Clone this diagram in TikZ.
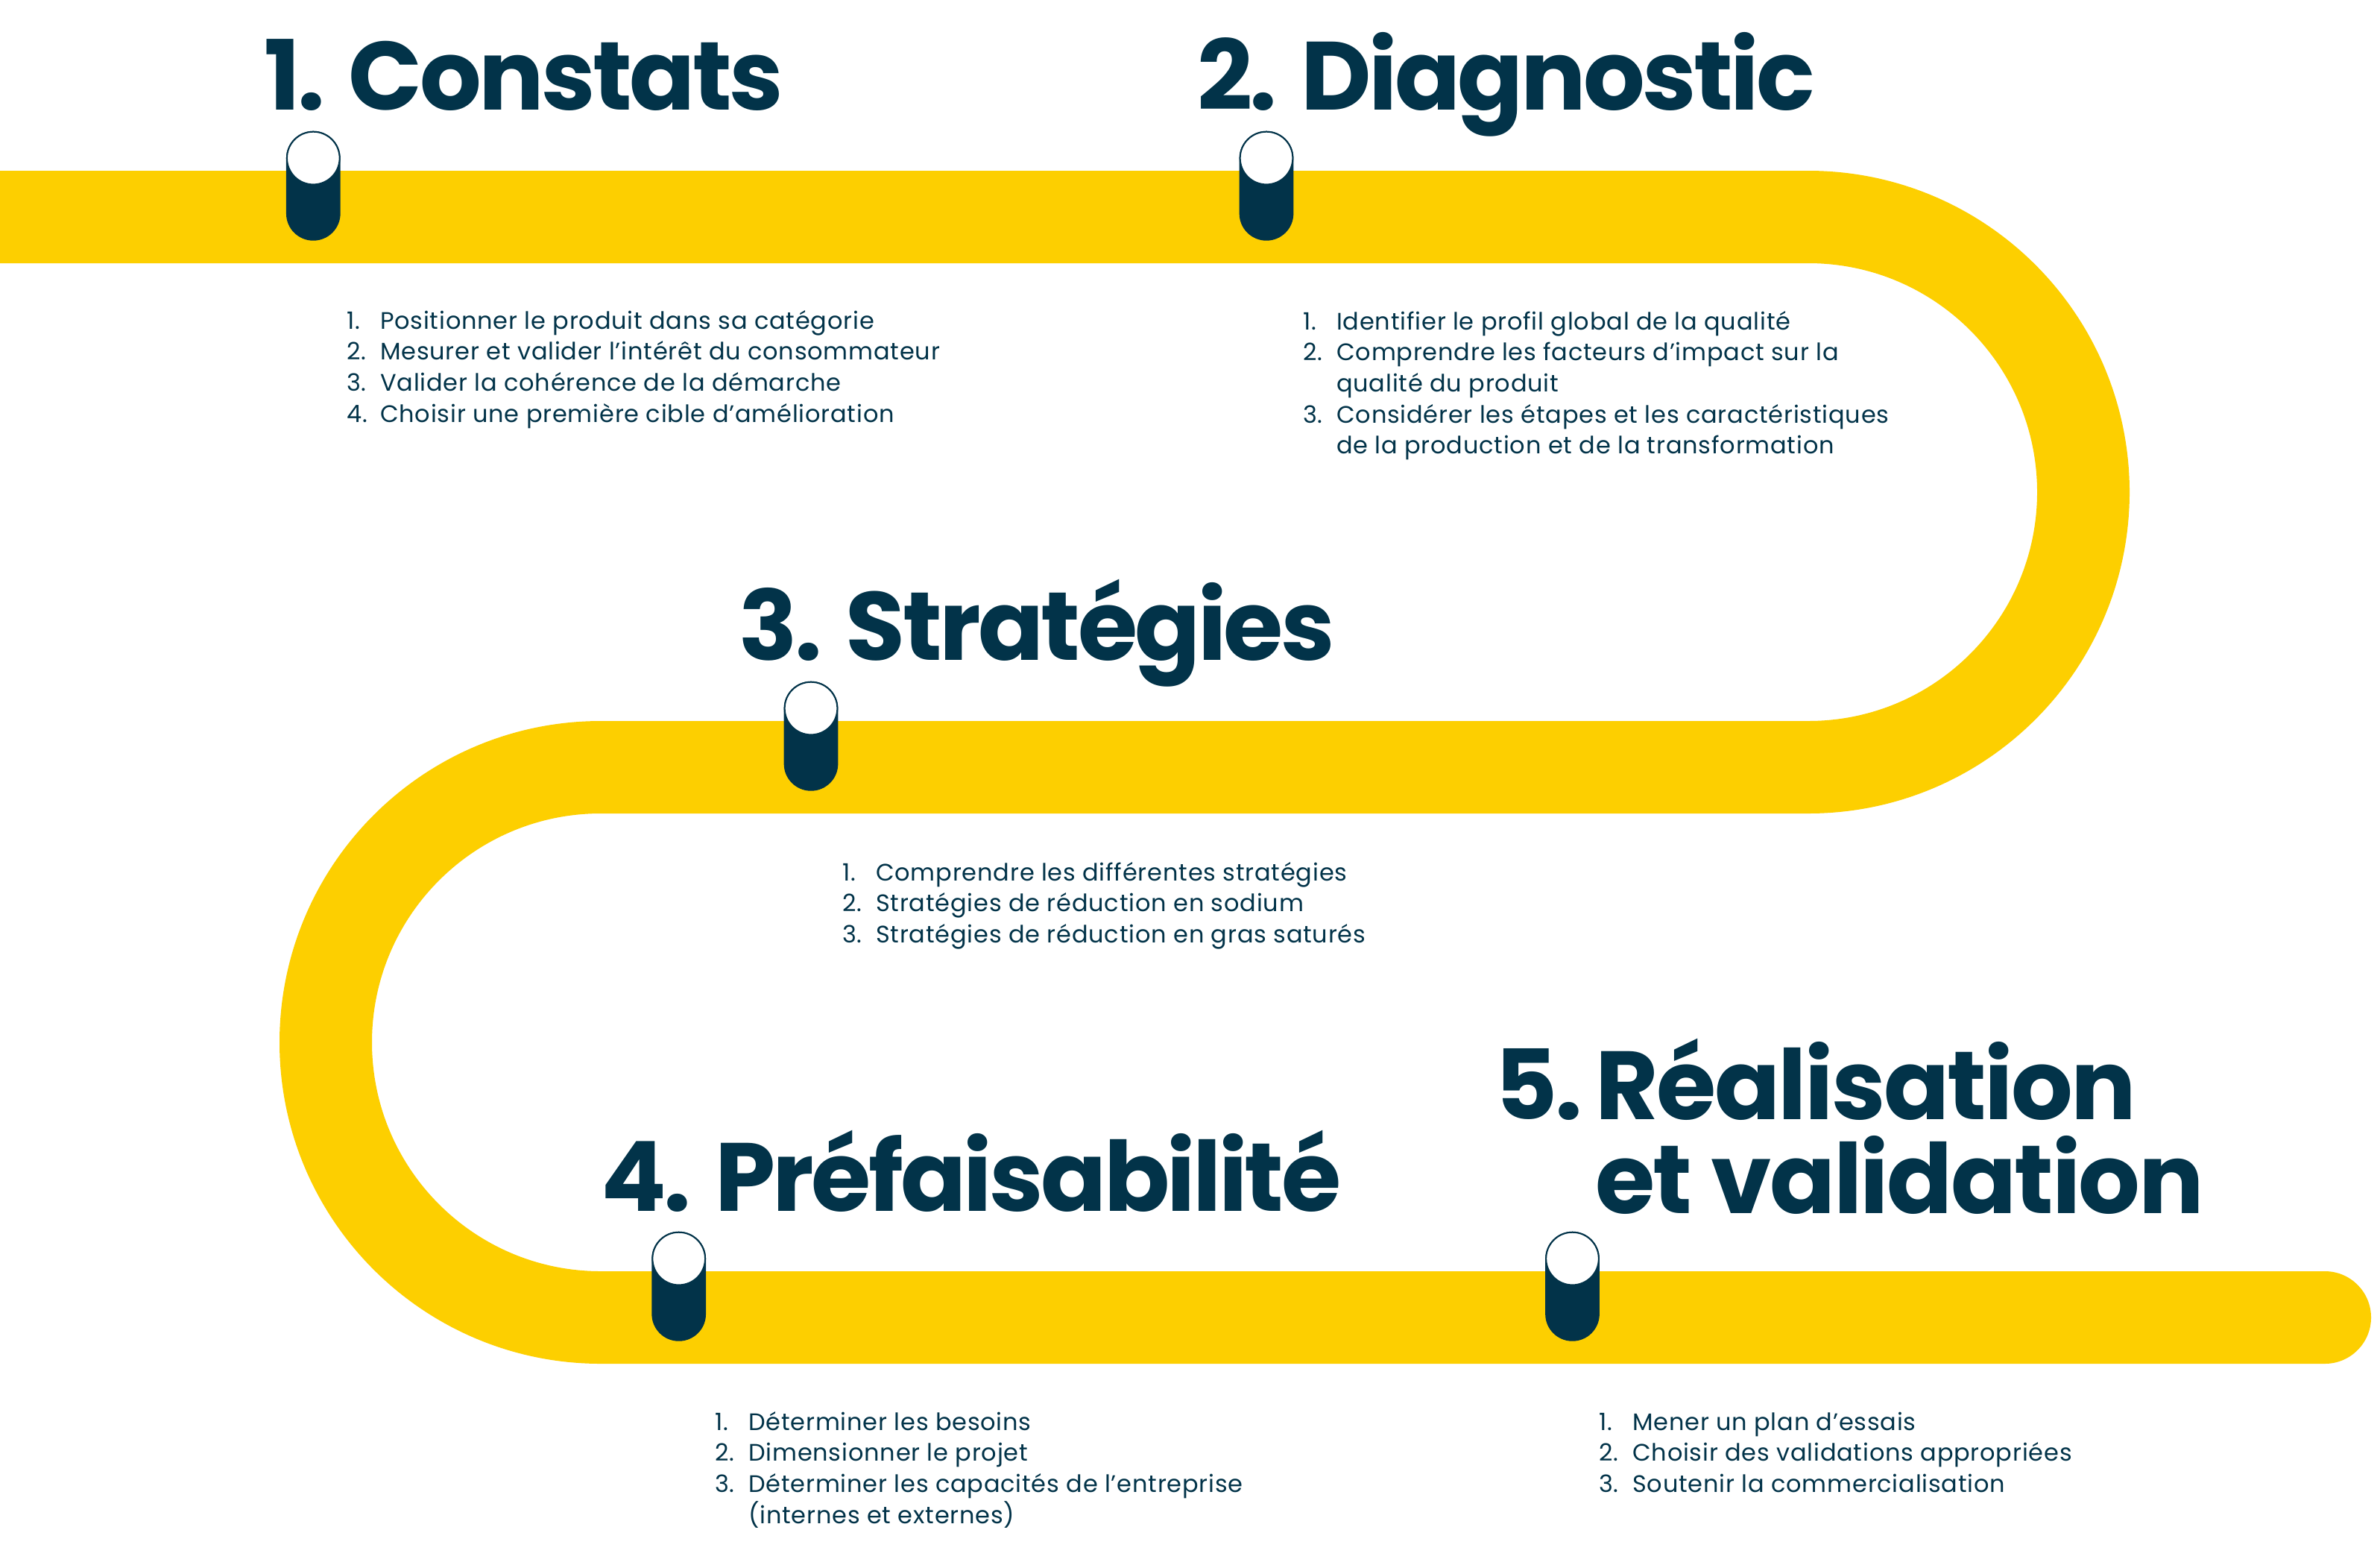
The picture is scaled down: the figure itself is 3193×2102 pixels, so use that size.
\documentclass[tikz,border=0pt]{standalone}
\usepackage{fontspec}
\setmainfont{Poppins}
\newfontfamily\titlefamily{Poppins}[LetterSpace=-2.8]
\newfontfamily\titlewidefamily{Poppins}[LetterSpace=-2.0]
\newfontfamily\bodyfamily{Poppins}[LetterSpace=2.5]
\definecolor{navy}{RGB}{2,51,73}
\definecolor{gold}{RGB}{253,207,0}
\newcommand\stepnum[1]{\makebox[45bp][l]{#1}}
\tikzset{
  band/.style={draw=gold, line width=124bp, line cap=round},
  pillbody/.style={rectangle, fill=navy, rounded corners=36.3bp, minimum width=72.7bp, minimum height=147bp, inner sep=0pt, draw=none},
  pillcap/.style={circle, fill=white, draw=navy, line width=2bp, minimum size=70.7bp, inner sep=0pt},
  titletext/.style={anchor=base west, inner sep=0pt, text=navy, font=\titlefamily\fontsize{130bp}{126bp}\selectfont\bfseries},
  titlewide/.style={titletext, font=\titlewidefamily\fontsize{130bp}{126bp}\selectfont\bfseries},
  steplist/.style={anchor=base west, inner sep=0pt, text=navy, font=\bodyfamily\fontsize{32bp}{41.7bp}\selectfont},
}
\begin{document}
\begin{tikzpicture}[x=1bp,y=1bp]
\useasboundingbox (0,0) rectangle (3193,-2102);
\fill[white] (0,0) rectangle (3193,-2102);

% road
\coordinate (r0) at (-80,-291);
\coordinate (r1) at (2426,-291);
\coordinate (r2) at (806,-1029);
\coordinate (r3) at (3119,-1767);
\draw[band] (r0) -- (r1) arc[start angle=90, end angle=-90, radius=369] -- (r2) arc[start angle=90, end angle=270, radius=369] -- (r3);

% pills
\foreach \n/\px/\cy in {1/420.3/291, 2/1699/291, 3/1088/1029, 4/910.7/1767, 5/2109.5/1767}{
  \node[pillbody] (pill\n) at (\px,-\cy+41.8) {};
  \node[pillcap] (cap\n) at (\px,-\cy+78.95) {};
}

% titles
\node[titletext] (t1) at (354,-147) {1. Constats};
\node[titletext] (t2) at (1606,-147) {2. Diagnostic};
\node[titletext] (t3) at (991,-885) {3. Stratégies};
\node[titletext] (t4) at (806,-1624) {4. Préfaisabilité};
\node[titletext] (t5a) at (2005,-1501) {5.};
\node[titlewide] (t5b) at (2140,-1501) {Réalisation};
\node[titlewide] (t5c) at (2140,-1627) {et validation};

% lists
\node[steplist] (l1) at (465,-441) {\begin{tabular}[t]{@{}l@{}l@{}}
\stepnum{1.} & Positionner le produit dans sa catégorie\\
\stepnum{2.} & Mesurer et valider l’intérêt du consommateur\\
\stepnum{3.} & Valider la cohérence de la démarche\\
\stepnum{4.} & Choisir une première cible d’amélioration
\end{tabular}};

\node[steplist] (l2) at (1748,-442) {\begin{tabular}[t]{@{}l@{}l@{}}
\stepnum{1.} & Identifier le profil global de la qualité\\
\stepnum{2.} & Comprendre les facteurs d’impact sur la\\
 & qualité du produit\\
\stepnum{3.} & Considérer les étapes et les caractéristiques\\
 & de la production et de la transformation
\end{tabular}};

\node[steplist] (l3) at (1130,-1181) {\begin{tabular}[t]{@{}l@{}l@{}}
\stepnum{1.} & Comprendre les différentes stratégies\\
\stepnum{2.} & Stratégies de réduction en sodium\\
\stepnum{3.} & Stratégies de réduction en gras saturés
\end{tabular}};

\node[steplist] (l4) at (959,-1918) {\begin{tabular}[t]{@{}l@{}l@{}}
\stepnum{1.} & Déterminer les besoins\\
\stepnum{2.} & Dimensionner le projet\\
\stepnum{3.} & Déterminer les capacités de l’entreprise\\
 & (internes et externes)
\end{tabular}};

\node[steplist] (l5) at (2145,-1918) {\begin{tabular}[t]{@{}l@{}l@{}}
\stepnum{1.} & Mener un plan d’essais\\
\stepnum{2.} & Choisir des validations appropriées\\
\stepnum{3.} & Soutenir la commercialisation
\end{tabular}};
\end{tikzpicture}
\end{document}
